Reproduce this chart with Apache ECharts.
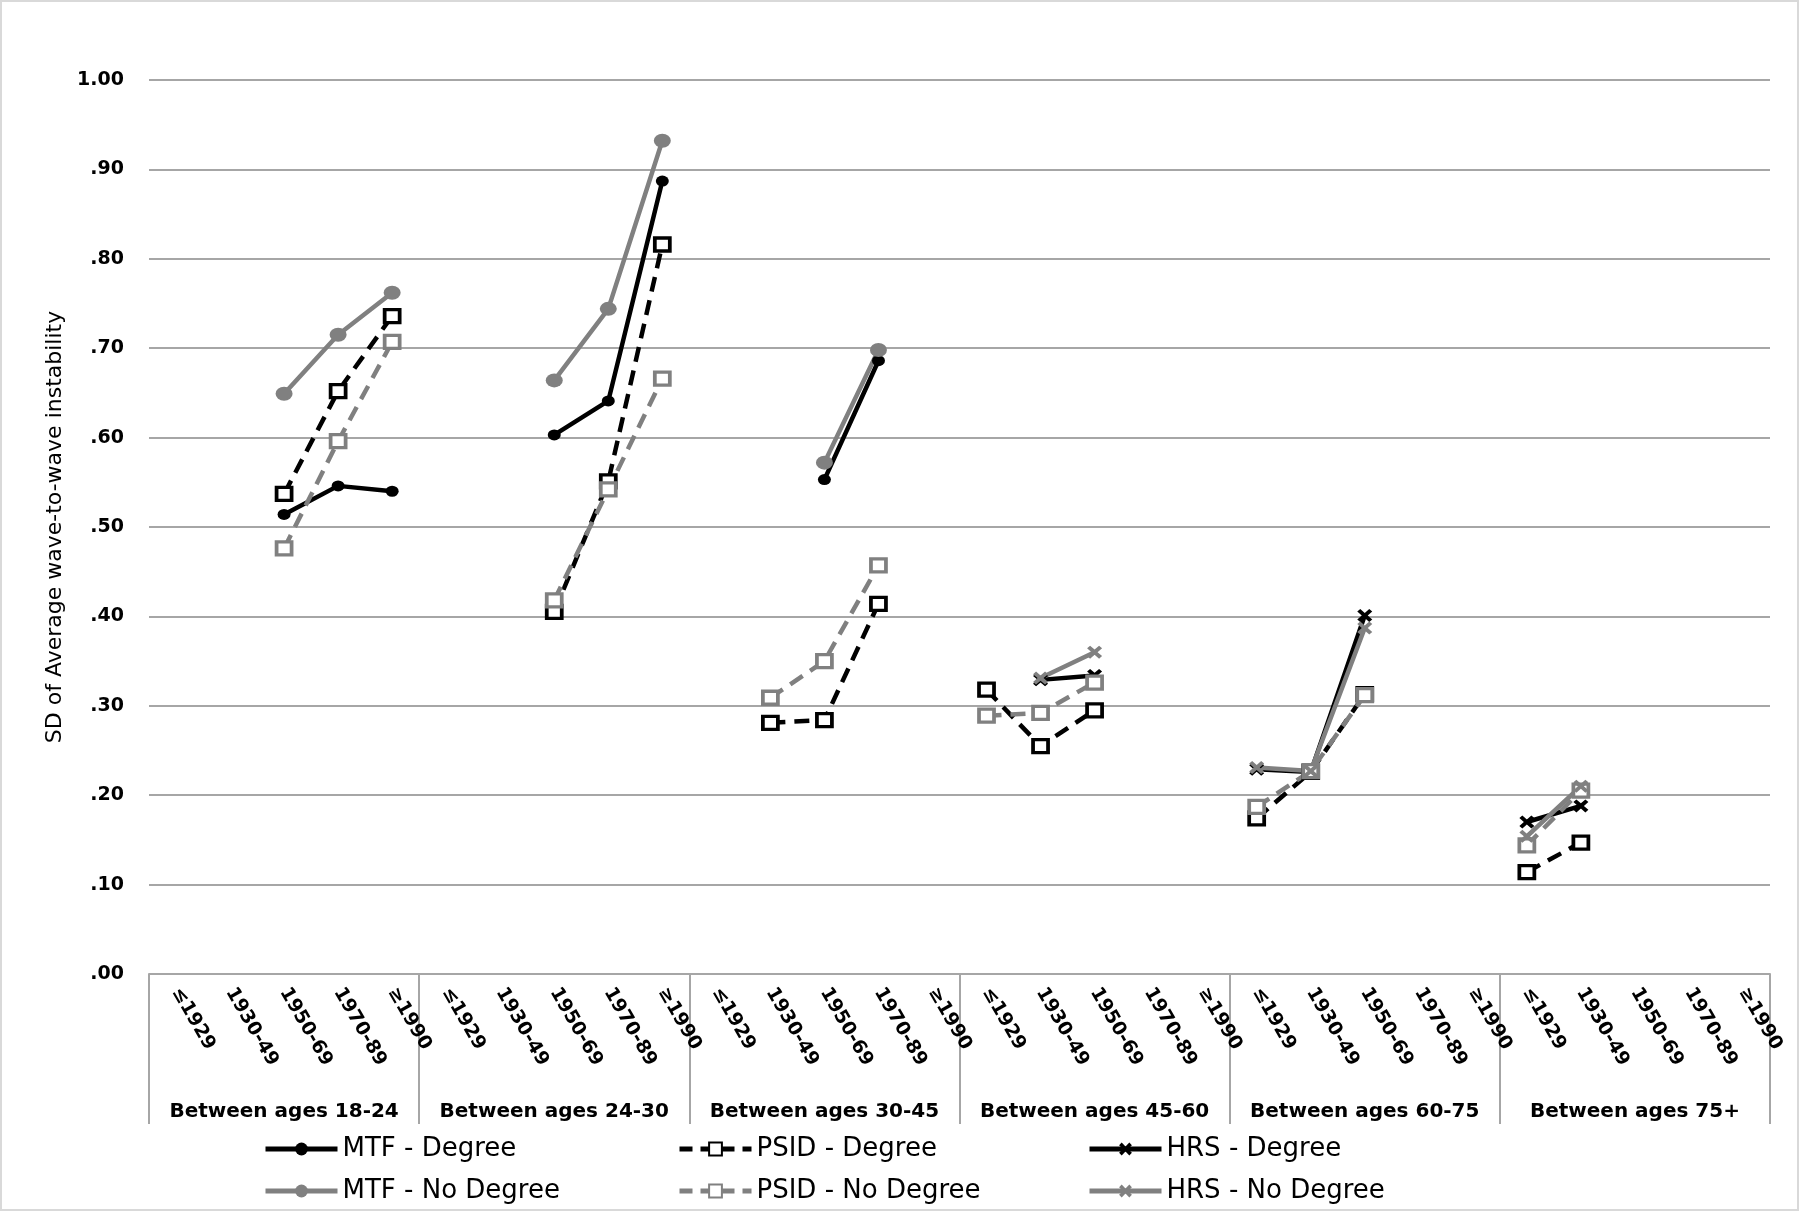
<!DOCTYPE html>
<html>
<head>
<meta charset="utf-8">
<script src="https://cdn.jsdelivr.net/npm/echarts@6/dist/echarts.min.js"></script>
<style>
    html, body { margin: 0; padding: 0; background: #fff; }
    #chart { width: 1800px; height: 1212px; }
</style>
</head>
<body>
<div id="chart"></div>
<script>
const cohorts = ["≤1929", "1930-49", "1950-69", "1970-89", "≥1990"];
const ageGroups = ["Between ages 18-24", "Between ages 24-30", "Between ages 30-45",
    "Between ages 45-60", "Between ages 60-75", "Between ages 75+"];
const yTicks = [".00", ".10", ".20", ".30", ".40", ".50", ".60", ".70", ".80", ".90", "1.00"];

// one value per cohort, groups in the order of ageGroups
const mtfDegree = [
    null, null, 0.514, 0.546, 0.540,
    null, null, 0.603, 0.641, 0.887,
    null, null, 0.553, 0.686, null,
    null, null, null, null, null,
    null, null, null, null, null,
    null, null, null, null, null
];
const mtfNoDegree = [
    null, null, 0.649, 0.715, 0.762,
    null, null, 0.664, 0.744, 0.932,
    null, null, 0.572, 0.698, null,
    null, null, null, null, null,
    null, null, null, null, null,
    null, null, null, null, null
];
const psidDegree = [
    null, null, 0.537, 0.652, 0.736,
    null, null, 0.405, 0.551, 0.816,
    null, 0.281, 0.284, 0.414, null,
    0.318, 0.255, 0.295, null, null,
    0.174, 0.226, 0.313, null, null,
    0.114, 0.147, null, null, null
];
const psidNoDegree = [
    null, null, 0.476, 0.596, 0.707,
    null, null, 0.418, 0.542, 0.666,
    null, 0.309, 0.350, 0.457, null,
    0.289, 0.292, 0.326, null, null,
    0.187, 0.227, 0.312, null, null,
    0.144, 0.205, null, null, null
];
const hrsDegree = [
    null, null, null, null, null,
    null, null, null, null, null,
    null, null, null, null, null,
    null, 0.329, 0.334, null, null,
    0.229, 0.226, 0.401, null, null,
    0.170, 0.188, null, null, null
];
const hrsNoDegree = [
    null, null, null, null, null,
    null, null, null, null, null,
    null, null, null, null, null,
    null, 0.331, 0.360, null, null,
    0.231, 0.227, 0.387, null, null,
    0.154, 0.210, null, null, null
];

const categories = ageGroups.flatMap(() => cohorts);
const FONT = "DejaVu Sans";
const BLACK = "#000000";
const GRAY = "#808080";
const GRID = "#a6a6a6";
const CROSS = "path://M0,2 L2,0 L5,3 L8,0 L10,2 L7,5 L10,8 L8,10 L5,7 L2,10 L0,8 L3,5 Z";
const DASH = [15, 9];

function lineSeries(name, data, color, kind) {
    const s = {
        name, type: "line", data, connectNulls: false,
        lineStyle: {color, width: 4.5, type: "solid"},
        itemStyle: {color},
        emphasis: {disabled: true}
    };
    if (kind === "circle") {
        s.symbol = "circle";
        s.symbolSize = color === BLACK ? [13, 11] : [17, 14];
    } else if (kind === "square") {
        s.symbol = "rect";
        s.symbolSize = [15, 13];
        s.lineStyle.type = DASH;
        s.itemStyle = {color: "#ffffff", borderColor: color, borderWidth: 3.5};
    } else {
        s.symbol = CROSS;
        s.symbolSize = [15, 13];
    }
    return s;
}

const series = [
    lineSeries("MTF - Degree", mtfDegree, BLACK, "circle"),
    lineSeries("PSID - Degree", psidDegree, BLACK, "square"),
    lineSeries("HRS - Degree", hrsDegree, BLACK, "cross"),
    lineSeries("MTF - No Degree", mtfNoDegree, GRAY, "circle"),
    lineSeries("PSID - No Degree", psidNoDegree, GRAY, "square"),
    lineSeries("HRS - No Degree", hrsNoDegree, GRAY, "cross")
];

function legendAt(name, left, top, dashed) {
    return {
        data: [name], left, top, padding: 0,
        itemWidth: 72, itemHeight: 16, itemGap: 0,
        selectedMode: false,
        lineStyle: {width: 5, type: dashed ? [13, 8] : "solid"},
        textStyle: {fontFamily: FONT, fontSize: 26, color: "#000"}
    };
}

const chart = echarts.init(document.getElementById("chart"));
chart.setOption({
    animation: false,
    backgroundColor: "#ffffff",
    grid: {left: 149, right: 30, top: 80, bottom: 238, containLabel: false, outerBoundsMode: "none"},
    legend: [
        legendAt("MTF - Degree", 263, 1136, false),
        legendAt("PSID - Degree", 677, 1136, true),
        legendAt("HRS - Degree", 1087, 1136, false),
        legendAt("MTF - No Degree", 263, 1178, false),
        legendAt("PSID - No Degree", 677, 1178, true),
        legendAt("HRS - No Degree", 1087, 1178, false)
    ],
    xAxis: [{
        type: "category",
        data: categories,
        boundaryGap: true,
        axisLine: {show: true, lineStyle: {color: GRID, width: 2}},
        axisTick: {show: false},
        axisLabel: {
            interval: 0, rotate: -60, margin: 15,
            fontFamily: FONT, fontWeight: "bold", fontSize: 19, color: "#000"
        }
    }, {
        type: "category",
        data: ageGroups,
        position: "bottom",
        boundaryGap: true,
        axisLine: {show: false},
        axisTick: {show: true, length: 150, interval: 0, lineStyle: {color: GRID, width: 2}},
        axisLabel: {
            interval: 0, margin: 128,
            fontFamily: FONT, fontWeight: "bold", fontSize: 20, color: "#000"
        }
    }],
    yAxis: {
        type: "value",
        min: 0, max: 1, interval: 0.1,
        name: "SD of Average wave-to-wave instability",
        nameLocation: "middle",
        nameGap: 77,
        nameTextStyle: {fontFamily: FONT, fontSize: 22, color: "#000"},
        axisLine: {show: false},
        axisTick: {show: false},
        splitLine: {lineStyle: {color: GRID, width: 2}},
        axisLabel: {
            margin: 25,
            fontFamily: FONT, fontWeight: "bold", fontSize: 19, color: "#000",
            formatter: v => yTicks[Math.round(v * 10)]
        }
    },
    graphic: [{
        type: "rect", silent: true,
        shape: {x: 1, y: 1, width: 1797, height: 1209},
        style: {fill: "none", stroke: "#d9d9d9", lineWidth: 2}
    }],
    series
});
</script>
</body>
</html>
